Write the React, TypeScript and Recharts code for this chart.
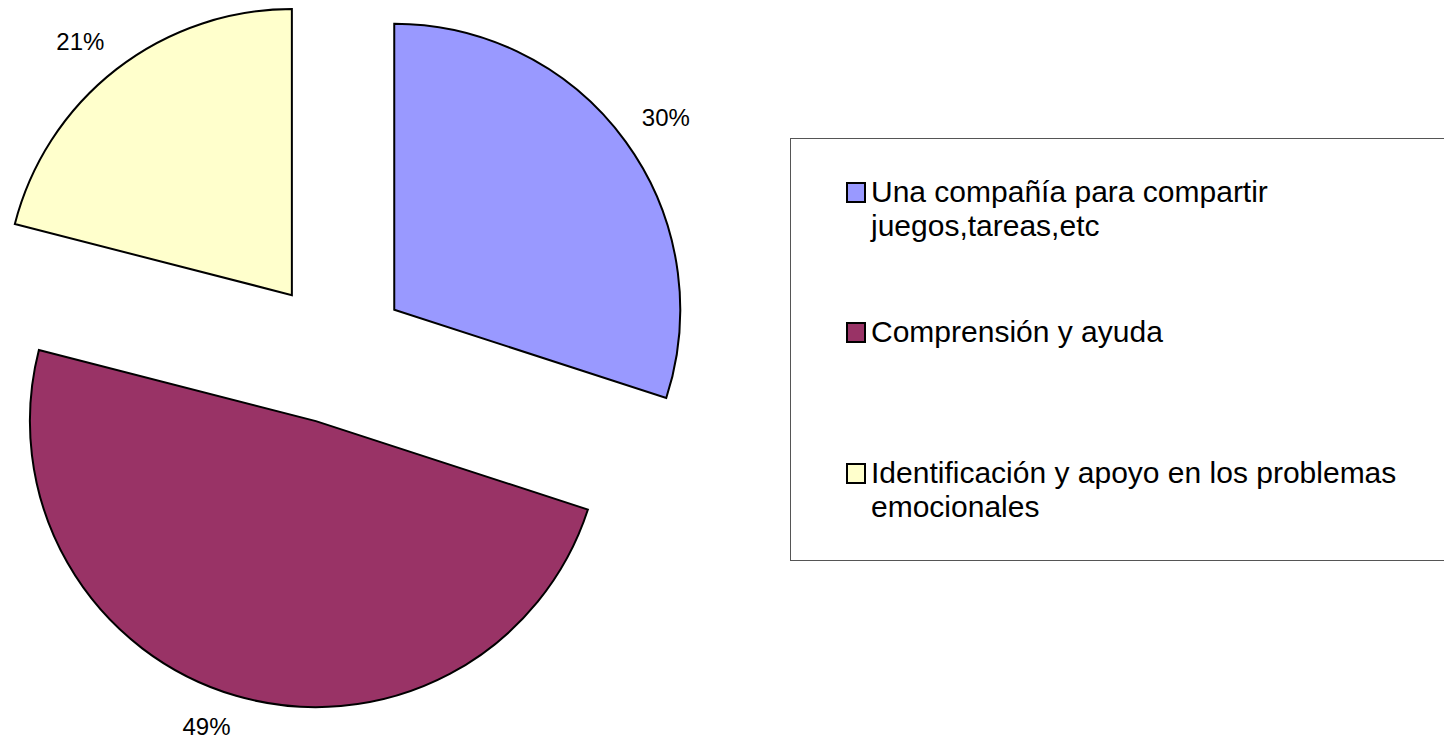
import React from "react";
import { PieChart, Pie, Cell, Sector, Legend } from "recharts";

const categories = [
  "Una compañía para compartir juegos,tareas,etc",
  "Comprensión y ayuda",
  "Identificación y apoyo en los problemas emocionales",
];
const legendLines = [
  ["Una compañía para compartir", "juegos,tareas,etc"],
  ["Comprensión y ayuda"],
  ["Identificación y apoyo en los problemas", "emocionales"],
];
const values = [30, 49, 21];
const pctLabels = ["30%", "49%", "21%"];
const colors = ["#9999FF", "#993366", "#FFFFCC"];

const data = categories.map((name, i) => ({ name, value: values[i] }));

const RAD = Math.PI / 180;
const EXPLODE = 72;
const FONT = "'Liberation Sans', Arial, sans-serif";

function ExplodedSector(props: any) {
  const { cx, cy, midAngle } = props;
  const dx = EXPLODE * Math.cos(-midAngle * RAD);
  const dy = EXPLODE * Math.sin(-midAngle * RAD);
  return <Sector {...props} cx={cx + dx} cy={cy + dy} />;
}

function renderLabel(props: any) {
  const { cx, cy, midAngle, outerRadius, index } = props;
  const c = Math.cos(-midAngle * RAD);
  const s = Math.sin(-midAngle * RAD);
  const r = EXPLODE + outerRadius + 20;
  // anchor on the box corner nearest to the slice, like the office charts do
  const x = cx + r * c + (c >= 0 ? 24 : -24);
  const y = cy + r * s + (s >= 0 ? 12 : -12);
  return (
    <text
      x={x}
      y={y}
      textAnchor="middle"
      dominantBaseline="central"
      fontFamily={FONT}
      fontSize={24}
      fill="#000"
    >
      {pctLabels[index]}
    </text>
  );
}

function renderLegend() {
  const tops = [36, 176, 317];
  return (
    <div
      style={{
        position: "relative",
        width: 700,
        height: 421,
        border: "1px solid #555",
        background: "#fff",
        fontFamily: FONT,
        fontSize: 30,
        color: "#000",
      }}
    >
      {legendLines.map((lines, i) => (
        <div key={i} style={{ position: "absolute", left: 55, top: tops[i] }}>
          <div
            style={{
              position: "absolute",
              left: 0,
              top: 7,
              width: 16,
              height: 17,
              background: colors[i],
              border: "2px solid #000",
            }}
          />
          <div style={{ marginLeft: 25, lineHeight: "34px", whiteSpace: "nowrap" }}>
            {lines.map((l, j) => (
              <div key={j}>{l}</div>
            ))}
          </div>
        </div>
      ))}
    </div>
  );
}

export default function App() {
  return (
    <div style={{ position: "absolute", left: 0, top: 0, width: 1444, height: 740, overflow: "hidden", background: "#fff" }}>
      <PieChart width={1444} height={740} margin={{ top: 0, right: 0, bottom: 0, left: 0 }}>
        <Pie
          data={data}
          dataKey="value"
          nameKey="name"
          cx={336}
          cy={352}
          outerRadius={286}
          startAngle={90}
          endAngle={-270}
          shape={ExplodedSector}
          label={renderLabel}
          labelLine={false}
          isAnimationActive={false}
        >
          {data.map((d, i) => (
            <Cell key={d.name} fill={colors[i]} stroke="#000" strokeWidth={2} />
          ))}
        </Pie>
        <Legend
          content={renderLegend}
          wrapperStyle={{ position: "absolute", left: 790, top: 138, width: 702, height: 423 }}
        />
      </PieChart>
    </div>
  );
}
